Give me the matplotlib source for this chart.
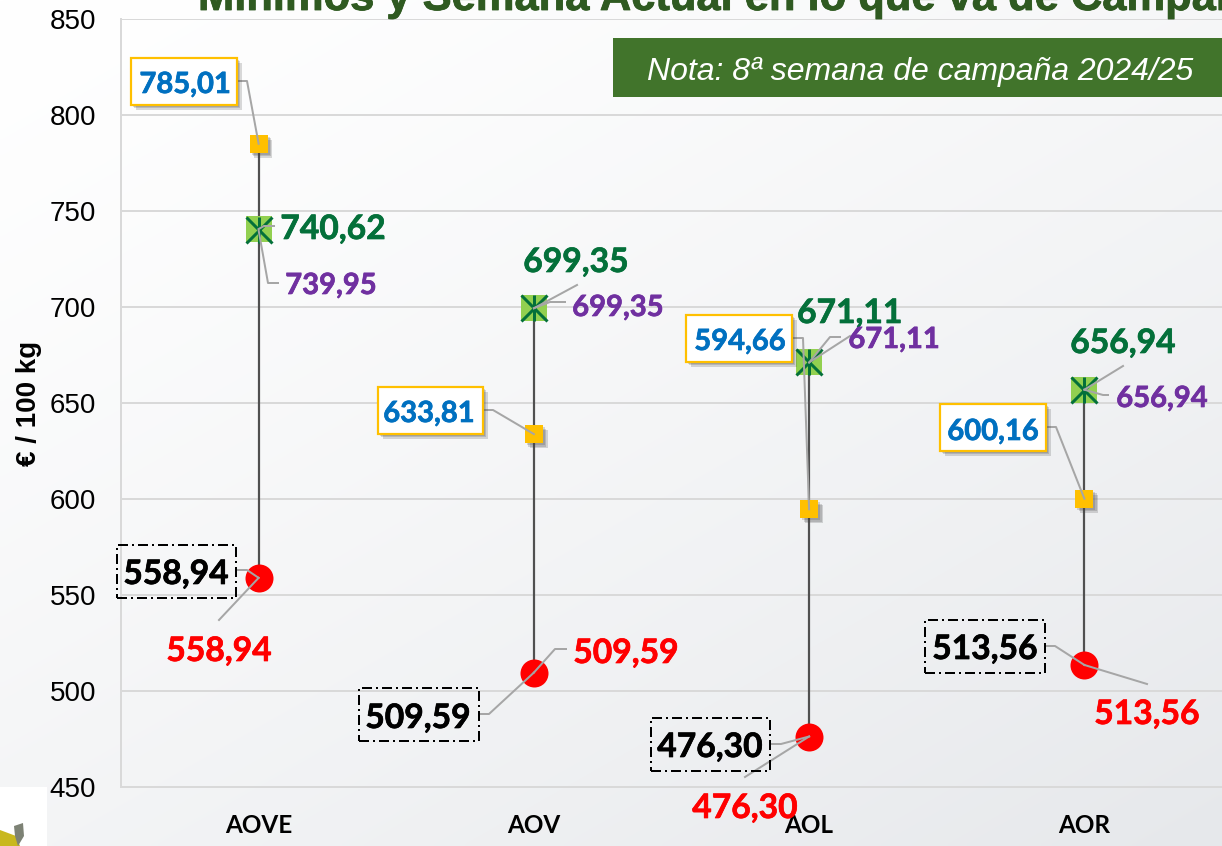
import numpy as np
import matplotlib
matplotlib.use("Agg")
import matplotlib.pyplot as plt
import matplotlib.patheffects as pe
from matplotlib.patches import Rectangle, Polygon
from matplotlib.transforms import IdentityTransform

# Data
categories = ["AOVE", "AOV", "AOL", "AOR"]
maximos = [785.01, 633.81, 594.66, 600.16]
actual = [740.62, 699.35, 671.11, 656.94]
semana = [739.95, 699.35, 671.11, 656.94]
minimos = [558.94, 509.59, 476.30, 513.56]
yticks = [450, 500, 550, 600, 650, 700, 750, 800, 850]

title = "Mínimos y Semana Actual en lo que va de Campaña"
note = "Nota: 8ª semana de campaña 2024/25"
ylabel = "€ / 100 kg"

# Layout, in pixels of the picture (y going down)
W, H = 1222, 846
blue_boxes = [(131, 58, 106, 47), (378, 387, 105, 47), (686, 315, 106, 47), (940, 404, 106, 47)]
black_boxes = [(117, 545, 119, 53), (359, 688, 120, 53), (651, 718, 119, 53), (925, 620, 120, 53)]
blue_pos = [(185, 85), (429, 414), (740, 342), (993, 432)]
green_pos = [(333, 229), (576, 262), (850, 313), (1123, 343)]
purple_pos = [(331, 286), (618, 308), (894, 340), (1162, 399)]
black_pos = [(176, 574), (418, 718), (710, 747), (985, 649)]
red_pos = [(219, 651), (626, 653), (745, 808), (1147, 714)]
blue_lead = [[(238, 81), (247, 81)], [(483, 410), (493, 410)], [(793, 338), (803, 338)], [(1047, 427), (1056, 427)]]
green_lead = [[(274, 226), (264, 226)], [(577, 285)], [(840, 337), (830, 337)], [(1123, 366)]]
purple_lead = [[(278, 283), (268, 283)], [(565, 302), (550, 302)], [(850, 336)], [(1108, 395), (1103, 395)]]
black_lead = [[(236, 570), (247, 570)], [(479, 714), (489, 714)], [(771, 744), (781, 744)], [(1045, 646), (1055, 646)]]
red_lead = [[(219, 620)], [(566, 649), (555, 649)], [(745, 777)], [(1147, 684)]]

FONT = "Lato"
ARIAL = "Liberation Sans"
BLUE = "#0070c0"
GREEN = "#04703a"
PURPLE = "#7030a0"
RED = "#ff0000"
YELLOW = "#ffc000"
GRID = "#d9d9d9"
LEAD = "#a6a6a6"

fig = plt.figure(figsize=(W / 100, H / 100), dpi=100)

# Background gradient
bg = fig.add_axes([0, 0, 1, 1], zorder=0)
xx, yy = np.meshgrid(np.linspace(0, 1, 200), np.linspace(0, 1, 200))
t = (0.45 * xx + 0.55 * yy) ** 1.3
rgb = np.dstack([1 - 0.098 * t, 1 - 0.09 * t, 1 - 0.078 * t])
bg.imshow(rgb, aspect="auto", interpolation="bilinear")
bg.axis("off")

ax = fig.add_axes([121 / W, (H - 787) / H, 1101 / W, 768 / H], zorder=1)
ax.patch.set_alpha(0)
ax.set_xlim(-0.5, 3.5)
ax.set_ylim(450, 850)


def to_pt(px):
    return px * 72 / 100


def img(p):
    return (p[0], H - p[1])


ax.set_yticks(yticks)
ax.set_xticks(range(4), categories)
ax.grid(axis="y", color=GRID, lw=to_pt(2))
ax.set_axisbelow(True)
for s in ["top", "right"]:
    ax.spines[s].set_visible(False)
for s in ["left", "bottom"]:
    ax.spines[s].set_color(GRID)
    ax.spines[s].set_linewidth(to_pt(2))
ax.tick_params(axis="both", length=0)
ax.tick_params(axis="y", pad=to_pt(25), labelsize=20)
ax.tick_params(axis="x", pad=to_pt(27), labelsize=17.5)
for lab in ax.get_yticklabels():
    lab.set_fontfamily(ARIAL)
for lab in ax.get_xticklabels():
    lab.set_fontfamily(FONT)
    lab.set_fontweight("bold")

tr = IdentityTransform()
# soft shadow: a few faint layers
shadow = [pe.SimplePatchShadow(offset=(o, -o), shadow_rgbFace="#444444", alpha=0.2) for o in (1.5, 2.5, 3.5)]
shadow.append(pe.Normal())

# Hi-low lines and markers
x = np.arange(4)
ax.vlines(x, minimos, np.maximum(maximos, actual), color="#505050", lw=to_pt(2.2), zorder=3)
ax.plot(x, maximos, "s", color=YELLOW, ms=to_pt(18), mew=0, ls="none", zorder=4, path_effects=shadow)
ax.plot(x, minimos, "o", color=RED, ms=to_pt(28), mew=0, ls="none", zorder=4)
ax.plot(x, actual, "s", color="#92d050", ms=to_pt(26), mew=0, ls="none", zorder=4)
ax.plot(x, semana, "x", color=GREEN, ms=to_pt(26), mew=to_pt(3), ls="none", zorder=5)
ax.plot(x, semana, "|", color=GREEN, ms=to_pt(26), mew=to_pt(3), ls="none", zorder=5)


def leader(i, vals, way):
    mark = ax.transData.transform((i, vals[i]))
    pts = [img(p) for p in way] + [tuple(mark)]
    xs, ys = zip(*pts)
    ax.plot(xs, ys, color=LEAD, lw=to_pt(2), transform=tr, clip_on=False, zorder=6)


for i in range(4):
    leader(i, maximos, blue_lead[i])
    leader(i, actual, green_lead[i])
    leader(i, semana, purple_lead[i])
    leader(i, minimos, black_lead[i])
    leader(i, minimos, red_lead[i])

    bx, by, bw, bh = blue_boxes[i]
    ax.add_patch(Rectangle((bx, H - by - bh), bw, bh, fc="white", ec=YELLOW, lw=to_pt(2.2), transform=tr,
                           clip_on=False, zorder=7, path_effects=shadow))
    bx, by, bw, bh = black_boxes[i]
    ax.add_patch(Rectangle((bx, H - by - bh), bw, bh, fc="none", ec="black", lw=to_pt(2),
                           ls=(0, (5, 2, 1, 2)), transform=tr, clip_on=False, zorder=7))

    for pos, vals, col, size in [(blue_pos, maximos, BLUE, 21), (green_pos, actual, GREEN, 24.2),
                                 (purple_pos, semana, PURPLE, 21), (black_pos, minimos, "black", 24.2),
                                 (red_pos, minimos, RED, 24.2)]:
        px_, py_ = img(pos[i])
        ax.text(px_, py_, f"{vals[i]:.2f}".replace(".", ","), color=col, fontsize=size, fontweight="bold",
                family=FONT, ha="center", va="center", transform=tr, clip_on=False, zorder=8,
                path_effects=[pe.withStroke(linewidth=0.5, foreground=col)])

# Title, cut by the top edge as in the picture
fig.text(198 / W, (H - 10) / H, title, color="#2f5a21", fontsize=31.3, fontweight="bold", family=ARIAL,
         ha="left", va="baseline", path_effects=[pe.withStroke(linewidth=0.6, foreground="#2f5a21")])

# Note box
ax.add_patch(Rectangle((613, H - 97), W - 613, 59, fc="#41742b", ec="none", transform=tr, clip_on=False, zorder=7))
ax.text(920, H - 72, note, color="white", fontsize=23, style="italic", family=ARIAL, ha="center", va="center",
        transform=tr, clip_on=False, zorder=8)

fig.text(29 / W, (H - 403) / H, ylabel, rotation=90, fontsize=20, fontweight="bold", family=ARIAL,
         ha="center", va="center")

# Corner of the bottle picture
ax.add_patch(Rectangle((0, 0), 47, H - 787, fc="white", ec="none", transform=tr, clip_on=False, zorder=2))
ax.add_patch(Polygon([(0, H - 830), (16, H - 836), (20, H - 846), (0, H - 846)], fc="#c9b81e", ec="none",
                     transform=tr, clip_on=False, zorder=3))
ax.add_patch(Polygon([(14, H - 826), (23, H - 823), (24, H - 836), (18, H - 846), (15, H - 836)], fc="#7d8275",
                     ec="none", transform=tr, clip_on=False, zorder=3))

fig.savefig("out.png", dpi=100)
